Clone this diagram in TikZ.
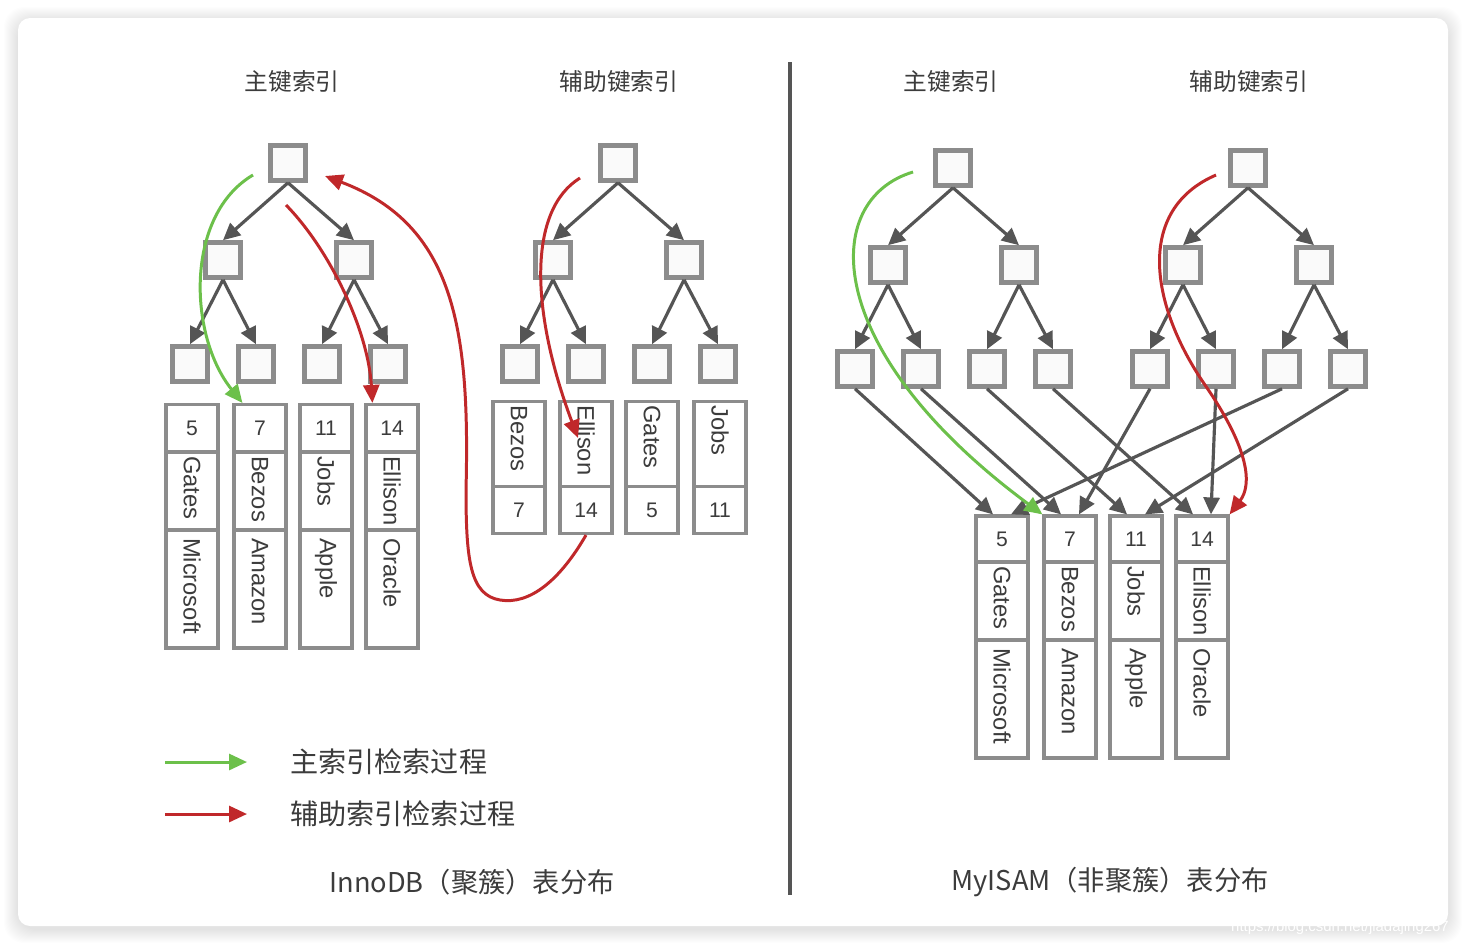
\documentclass[tikz,border=0pt]{standalone}
\usepackage{fontspec}
\setmainfont{Liberation Sans}
\newfontfamily\cjk{Noto Sans CJK SC}
\usepackage{tikz}
\usetikzlibrary{arrows.meta,positioning,calc}
\definecolor{idxGris}{HTML}{8C8C8C}
\definecolor{idxFlecha}{HTML}{555555}
\definecolor{idxTexto}{HTML}{3C3C3C}
\definecolor{idxVerde}{HTML}{6CC04A}
\definecolor{idxRojo}{HTML}{C0282A}
\tikzset{
  caja/.style={draw=idxGris, line width=2.6pt, fill=gray!4, minimum size=0.7cm, inner sep=0pt},
  celda/.style={draw=idxGris, line width=1.8pt, fill=white, inner sep=0pt, text=idxTexto, font=\fontsize{13.5}{16}\selectfont},
  celdanum/.style={celda, minimum width=1.04cm, minimum height=#1, font=\fontsize{12}{14}\selectfont},
  nombre/.style={celda, rotate=-90, minimum height=1.04cm, inner xsep=0.08cm, align=left, text width=#1},
  empresa/.style={celda, rotate=-90, minimum height=1.04cm, inner xsep=0.16cm, align=left, text width=#1},
  arrgris/.style={-{Triangle[length=3.4mm,width=3.2mm]}, line width=1.8pt, draw=idxFlecha},
  arrverde/.style={-{Triangle[length=3.6mm,width=3.2mm]}, line width=1.7pt, draw=idxVerde},
  arrrojo/.style={-{Triangle[length=3.6mm,width=3.2mm]}, line width=1.7pt, draw=idxRojo},
  titulo/.style={font=\cjk\fontsize{13.5}{16}\selectfont, text=idxTexto},
  leyenda/.style={font=\cjk\fontsize{16}{19}\selectfont, text=idxTexto, inner sep=0pt, anchor=west},
  pie/.style={font=\cjk\fontsize{15.5}{18}\selectfont, text=idxTexto},
}
\newcommand{\arbol}[3]{%
  \begin{scope}[shift={(#2,#3)}]
    \node[caja] (#1r) at (0,0) {};
    \node[caja] (#1a) at (-65,97) {};
    \node[caja] (#1b) at (66,97) {};
    \node[caja] (#11) at (-98,201) {};
    \node[caja] (#12) at (-32,201) {};
    \node[caja] (#13) at (34,201) {};
    \node[caja] (#14) at (100,201) {};
  \end{scope}
  \draw[arrgris] (#1r.south) -- (#1a.north);
  \draw[arrgris] (#1r.south) -- (#1b.north);
  \draw[arrgris] (#1a.south) -- (#11.north);
  \draw[arrgris] (#1a.south) -- (#12.north);
  \draw[arrgris] (#1b.south) -- (#13.north);
  \draw[arrgris] (#1b.south) -- (#14.north);
}

\begin{document}
\begin{tikzpicture}[x=0.02cm, y=-0.02cm]
\useasboundingbox (0,0) rectangle (1466,944);
\fill[white] (0,0) rectangle (1466,944);
\foreach \i in {1,...,14}{
  \fill[black, opacity=0.009, rounded corners=0.4cm] (18-\i,21-\i) rectangle (1448+\i,929+\i);
}
\fill[white, rounded corners=0.24cm] (18,18) rectangle (1448,926);

\node[titulo] (ta) at (292,82) {主键索引};
\node[titulo] (tb) at (619,82) {辅助键索引};
\node[titulo] (tc) at (951,82) {主键索引};
\node[titulo] (td) at (1249,82) {辅助键索引};

\arbol{i}{288}{163}
\arbol{s}{618}{163}
\arbol{p}{953}{168}
\arbol{q}{1248}{168}

\foreach \n/\x/\k/\who/\co in {a/192/5/Gates/Microsoft,b/260/7/Bezos/Amazon,c/326/11/Jobs/Apple,d/392/14/Ellison/Oracle}{
  \node[celdanum=0.94cm] (ik\n) at (\x,428) {\k};
  \node[nombre=1.4cm] (in\n) at (\x,491) {\who};
  \node[empresa=2.04cm] (ic\n) at (\x,589) {\co};
}
\foreach \n/\x/\k/\who in {a/519/7/Bezos,b/586/14/Ellison,c/652/5/Gates,d/720/11/Jobs}{
  \node[nombre=1.54cm] (sn\n) at (\x,444) {\who};
  \node[celdanum=0.94cm] (sk\n) at (\x,510) {\k};
}
\foreach \n/\x/\k/\who/\co in {a/1002/5/Gates/Microsoft,b/1070/7/Bezos/Amazon,c/1136/11/Jobs/Apple,d/1202/14/Ellison/Oracle}{
  \node[celdanum=0.92cm] (mk\n) at (\x,539) {\k};
  \node[nombre=1.4cm] (mn\n) at (\x,601) {\who};
  \node[empresa=2.04cm] (mc\n) at (\x,699) {\co};
}

\draw[arrgris] (p1.south) -- (mka.110);
\draw[arrgris] (p2.south) -- (mkb.110);
\draw[arrgris] (p3.south) -- (mkc.110);
\draw[arrgris] (p4.south) -- (mkd.110);
\draw[arrgris] (q1.south) -- (mkb.70);
\draw[arrgris] (q2.south) -- (mkd.70);
\draw[arrgris] (q3.south) -- (mka.70);
\draw[arrgris] (q4.south) -- (mkc.70);

\coordinate (gi) at (253,175);
\coordinate (ri) at (286,205);
\coordinate (fi) at (325,176);
\coordinate (rs) at (580,178);
\coordinate (gm) at (913,172);
\coordinate (rm) at (1216,175);
\draw[arrverde] (gi) .. controls (185,215) and (188,335) .. (ikb.125);
\draw[arrrojo] (ri) .. controls (330,250) and (368,330) .. (ikd.128);
\draw[arrrojo] (skb.south) .. controls (560,580) and (530,605) .. (500,600)
  .. controls (470,595) and (466,560) .. (466,490)
  .. controls (470,330) and (455,225) .. (fi);
\draw[arrrojo] (rs) .. controls (528,210) and (530,310) .. ([shift={(-8,-6)}]snb.center);
\draw[arrverde] (gm) .. controls (820,200) and (820,350) .. (mkb.north west);
\draw[arrrojo] (rm) .. controls (1135,210) and (1150,305) .. (1205,385)
  .. controls (1250,450) and (1252,485) .. (mkd.north east);

\draw[line width=2pt, idxFlecha] (790,62) -- (790,895);

\node[leyenda] (lv) at (290,762) {主索引检索过程};
\node[leyenda] (lr) at (290,814) {辅助索引检索过程};
\coordinate (lv0) at (165,762);
\coordinate (lr0) at (165,814);
\draw[arrverde] (lv0) -- ([xshift=-0.86cm]lv.west);
\draw[arrrojo] (lr0) -- ([xshift=-0.86cm]lr.west);

\node[pie] (pa) at (472,882) {InnoDB（聚簇）表分布};
\node[pie] (pb) at (1110,882) {MyISAM（非聚簇）表分布};
\node[font=\fontsize{8.5}{10}\selectfont, text=white, anchor=west] (wm) at (1225,928) {https://blog.csdn.net/jiadajing267};
\end{tikzpicture}
\end{document}
